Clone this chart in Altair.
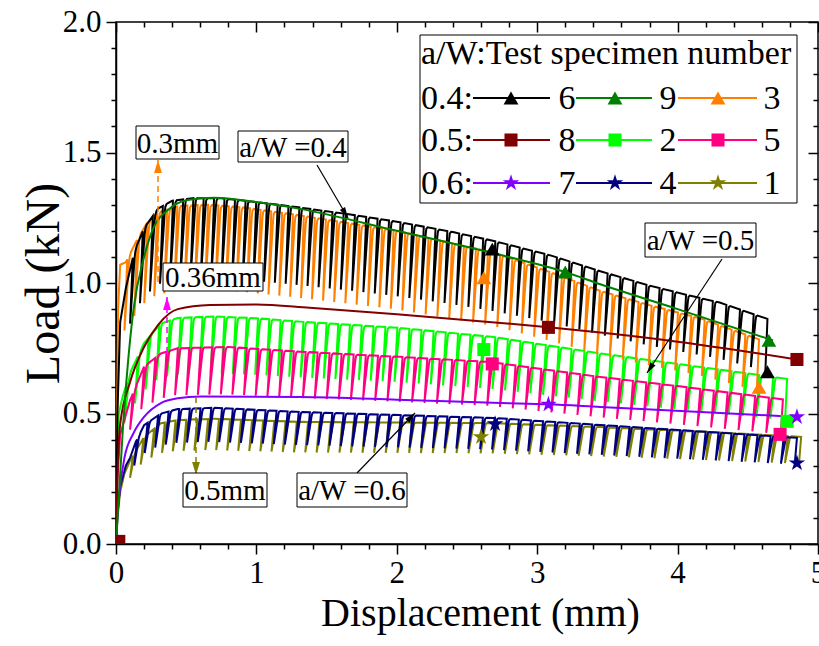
import math
import numpy as np
import pandas as pd
import altair as alt

FONT = "Liberation Serif"
W, H = 702, 522          # plot area in pixels
LEFT, TOP = 116, 22      # plot area offset in the page
XMAX, YMAX = 5.0, 2.0

# ---------------- axis ticks ----------------
X_MAJOR = [0, 1, 2, 3, 4, 5]
X_MINOR = [0.2, 0.4, 0.6, 0.8, 1.2, 1.4, 1.6, 1.8, 2.2, 2.4, 2.6, 2.8,
           3.2, 3.4, 3.6, 3.8, 4.2, 4.4, 4.6, 4.8]
Y_MAJOR = [0.0, 0.5, 1.0, 1.5, 2.0]
Y_MINOR = [0.1, 0.2, 0.3, 0.4, 0.6, 0.7, 0.8, 0.9, 1.1, 1.2, 1.3, 1.4,
           1.6, 1.7, 1.8, 1.9]

# ---------------- specimens ----------------
SPECIMENS = ["1", "2", "3", "4", "5", "6", "7", "8", "9"]          # draw order
COLORS = ["#808000", "#00FF00", "#FF8000", "#000080", "#FF0080",
          "#000000", "#8000FF", "#800000", "#008000"]
STAR = ("M0,-1L0.2245,-0.309L0.9511,-0.309L0.3633,0.118L0.5878,0.809L0,0.382"
        "L-0.5878,0.809L-0.3633,0.118L-0.9511,-0.309L-0.2245,-0.309Z")
SHAPES = [STAR, "square", "triangle-up", STAR, "square", "triangle-up",
          STAR, "square", "triangle-up"]
SIZES = [300, 170, 220, 300, 170, 220, 300, 170, 220]

# ---------------- cyclic (load-unload) specimens: envelope of cycle tops ----------------
ENV6_X = [0, 0.01, 0.03, 0.07, 0.13, 0.2, 0.3, 0.4, 0.55, 0.75, 1.0, 1.3, 1.7, 2.0,
          2.4, 2.7, 3.1, 3.45, 3.8, 4.1, 4.3, 4.68]
ENV6_Y = [0, 0.5, 0.85, 0.98, 1.12, 1.21, 1.285, 1.315, 1.325, 1.325, 1.31, 1.29,
          1.26, 1.235, 1.195, 1.16, 1.105, 1.045, 0.99, 0.95, 0.925, 0.855]
ENV3_X = [0, 0.015, 0.03, 0.07, 0.14, 0.22, 0.3, 0.45, 0.65, 0.9, 1.3, 2.0, 2.7,
          3.1, 3.45, 3.8, 4.16, 4.6]
ENV3_Y = [0, 0.9, 1.07, 1.08, 1.155, 1.23, 1.27, 1.295, 1.3, 1.29, 1.26, 1.2,
          1.115, 1.04, 0.97, 0.915, 0.865, 0.78]
ENV2_X = [0, 0.01, 0.02, 0.045, 0.1, 0.2, 0.32, 0.44, 0.7, 1.0, 1.31, 2.02, 2.69,
          3.45, 4.0, 4.82]
ENV2_Y = [0, 0.3, 0.5, 0.56, 0.655, 0.77, 0.845, 0.866, 0.872, 0.865, 0.852,
          0.828, 0.793, 0.73, 0.69, 0.63]
ENV5_X = [0, 0.01, 0.03, 0.1, 0.2, 0.32, 0.44, 0.8, 1.31, 2.02, 2.67, 3.45, 4.0, 4.78]
ENV5_Y = [0, 0.25, 0.42, 0.55, 0.68, 0.73, 0.75, 0.755, 0.737, 0.717, 0.697,
          0.64, 0.605, 0.552]
ENV4_X = [0, 0.01, 0.03, 0.07, 0.1, 0.14, 0.2, 0.32, 0.44, 0.7, 1.31, 2.02, 2.69,
          3.45, 4.2, 4.87]
ENV4_Y = [0, 0.12, 0.22, 0.3, 0.33, 0.39, 0.455, 0.5, 0.517, 0.522, 0.506, 0.494,
          0.483, 0.456, 0.43, 0.406]
ENV1_X = [0, 0.01, 0.03, 0.06, 0.1, 0.2, 0.32, 0.44, 0.7, 1.31, 2.69, 3.45, 4.2, 4.9]
ENV1_Y = [0, 0.1, 0.2, 0.27, 0.32, 0.41, 0.463, 0.475, 0.48, 0.468, 0.463, 0.448,
          0.43, 0.41]

# cycle layout per cyclic specimen: first / last unloading displacement,
# cycle spacing at start and end, trough/top ratio, final unloaded load
SAW_SPECS = ["6", "3", "2", "5", "4", "1"]
CYC_FIRST = [0.12, 0.08, 0.08, 0.12, 0.15, 0.12]
CYC_LAST = [4.64, 4.58, 4.78, 4.75, 4.85, 4.88]
CYC_STEP0 = [0.07, 0.07, 0.075, 0.08, 0.075, 0.075]
CYC_STEP1 = [0.098, 0.098, 0.10, 0.10, 0.095, 0.095]
CYC_RATIO = [0.77, 0.75, 0.75, 0.76, 0.75, 0.75]
CYC_END_LOW = [0.66, 0.60, 0.47, 0.42, 0.31, 0.31]

# ---------------- monotonic specimens ----------------
S9_X = [0, 0.05, 0.1, 0.125, 0.2, 0.27, 0.37, 0.51, 0.7, 1.0, 1.31, 2.0, 2.74,
        3.2, 3.45, 4.0, 4.68]
S9_Y = [0, 0.45, 0.78, 0.9, 1.1, 1.215, 1.28, 1.318, 1.327, 1.31, 1.284, 1.2,
        1.107, 1.042, 0.995, 0.9, 0.78]
S8_X = [0, 0.01, 0.03, 0.1, 0.2, 0.3, 0.44, 0.67, 1.0, 1.38, 2.0, 2.74, 3.08,
        3.45, 4.0, 4.85]
S8_Y = [0, 0.25, 0.46, 0.62, 0.755, 0.84, 0.9, 0.916, 0.918, 0.905, 0.88, 0.847,
        0.83, 0.81, 0.775, 0.707]
S7_X = [0, 0.01, 0.03, 0.06, 0.125, 0.2, 0.32, 0.44, 0.6, 1.31, 2.0, 2.74, 3.08,
        3.45, 4.2, 4.85]
S7_Y = [0, 0.1, 0.22, 0.33, 0.425, 0.487, 0.54, 0.558, 0.565, 0.563, 0.553, 0.54,
        0.535, 0.525, 0.505, 0.487]

# ---------------- plotted symbols ----------------
MK_SPEC = ["6", "6", "9", "9", "3", "3", "8", "8", "8", "2", "2", "5", "5",
           "7", "7", "7", "4", "4", "1"]
MK_X = [2.68, 4.64, 3.2, 4.65, 2.62, 4.58, 0.02, 3.08, 4.85, 2.62, 4.78, 2.68,
        4.73, 0.005, 3.08, 4.85, 2.7, 4.85, 2.6]
MK_Y = [1.13, 0.66, 1.042, 0.78, 1.02, 0.6, 0.01, 0.83, 0.707, 0.745, 0.47,
        0.69, 0.42, 0.005, 0.535, 0.487, 0.46, 0.31, 0.41]

# ---------------- annotations (page pixels) ----------------
BOX_TEXT = ["0.3mm", "a/W =0.4", "0.36mm", "a/W =0.5", "0.5mm", "a/W =0.6"]
BOX_X0 = [136, 238, 163, 645, 183, 297]
BOX_X1 = [219, 348, 263, 756, 267, 407]
BOX_Y0 = [126, 131, 263, 223, 473, 473]
BOX_Y1 = [159, 162, 291, 257, 507, 507]

ARW_X0 = [317, 722, 357, 158, 167, 196]
ARW_Y0 = [165, 259, 473, 282, 353, 397]
ARW_X1 = [348, 647, 415, 158, 167, 196]
ARW_Y1 = [218, 373, 413, 160, 297, 475]
ARW_COLOR = ["#000000", "#000000", "#000000", "#FF8000", "#FF00FF", "#808000"]
ARW_DASHED = [False, False, False, True, True, True]

# ---------------- legend (page pixels) ----------------
LEG_TITLE = "a/W:Test specimen number"
LEG_ROWS = ["0.4:", "0.5:", "0.6:"]
LEG_ITEMS = [["6", "9", "3"], ["8", "2", "5"], ["7", "4", "1"]]
LEG_ROW_Y = [98, 140, 183]
LEG_LINE_X0 = [473, 576, 678]
LEG_LINE_X1 = [550, 652, 757]
LEG_MARK_X = [511, 615, 718]
LEG_LABEL_X = [567, 668, 772]
LEG_BOX = [420, 35, 797, 203]


def fx(px):
    return (px - LEFT) / W * XMAX


def fy(py):
    return (TOP + H - py) / H * YMAX


XS = alt.Scale(domain=[0, XMAX], nice=False, zero=False)
YS = alt.Scale(domain=[0, YMAX], nice=False, zero=False)


def X(f):
    return alt.X(f, type="quantitative", scale=XS, axis=None)


def Y(f):
    return alt.Y(f, type="quantitative", scale=YS, axis=None)


COLOR_OF = dict(zip(SPECIMENS, COLORS))
SHAPE_OF = dict(zip(SPECIMENS, SHAPES))
SIZE_OF = dict(zip(SPECIMENS, SIZES))

ENV = {"6": (ENV6_X, ENV6_Y), "3": (ENV3_X, ENV3_Y), "2": (ENV2_X, ENV2_Y),
       "5": (ENV5_X, ENV5_Y), "4": (ENV4_X, ENV4_Y), "1": (ENV1_X, ENV1_Y)}
SMOOTH = {"9": (S9_X, S9_Y), "8": (S8_X, S8_Y), "7": (S7_X, S7_Y)}


def cycle_positions(first, last, s0, s1):
    xs = [first]
    while True:
        x = xs[-1]
        step = s0 + (s1 - s0) * (x - first) / (last - first)
        if x + step > last + 0.5 * step:
            break
        xs.append(x + step)
    xs = np.array(xs)
    return first + (xs - first) * (last - first) / (xs[-1] - first)


def sawtooth(ex, ey, xs, ratio, end_low, delta=0.02, gap=0.016):
    env = lambda x: float(np.interp(x, ex, ey))
    pts = [(x, y) for x, y in zip(ex, ey) if x < xs[0] - 0.005]
    n = len(xs)
    for i, xu in enumerate(xs):
        top = env(xu)
        pts.append((xu, top))
        if i == n - 1:
            pts.append((xu - 0.015, end_low))
            break
        pts.append((xu - delta, ratio * top))
        xr = xu + gap
        pts.append((xr - 0.003, env(xr) * 0.975))
        pts.append((xr + 0.002, env(xr) * 0.994))
        pts.append((xr + 0.011, env(xr + 0.011)))
        nxt = xs[i + 1]
        pts += [(x, y) for x, y in zip(ex, ey) if xr + 0.011 < x < nxt - 0.003]
    return pts


curves = {}
for k, spec in enumerate(SAW_SPECS):
    xs = cycle_positions(CYC_FIRST[k], CYC_LAST[k], CYC_STEP0[k], CYC_STEP1[k])
    ex, ey = ENV[spec]
    curves[spec] = sawtooth(ex, ey, xs, CYC_RATIO[k], CYC_END_LOW[k])

layers = []

# ---------------- axes ----------------
ax_df = pd.DataFrame({"x": [0.0, XMAX], "y": [0.0, YMAX]})
common = dict(grid=False, tickColor="black", tickWidth=1.5)


def axis_layer(xaxis, yaxis):
    return alt.Chart(ax_df).mark_point(opacity=0).encode(
        x=alt.X("x:Q", scale=XS, axis=xaxis),
        y=alt.Y("y:Q", scale=YS, axis=yaxis))


layers.append(axis_layer(
    alt.Axis(orient="bottom", values=X_MAJOR, format="d", tickSize=10,
             domain=True, domainColor="black", domainWidth=1.5,
             labelFont=FONT, labelFontSize=31, labelColor="black", labelPadding=4,
             labelFlush=False, labelOverlap=False,
             title="Displacement (mm)", titleFont=FONT, titleFontSize=40,
             titleFontWeight="normal", titleColor="black",
             titleX=364, titleY=81, titleBaseline="alphabetic", titleAlign="center",
             **common),
    alt.Axis(orient="left", values=Y_MAJOR, format=".1f", tickSize=10,
             domain=True, domainColor="black", domainWidth=1.5,
             labelFont=FONT, labelFontSize=31, labelColor="black", labelPadding=5,
             labelFlush=False, labelOverlap=False,
             title="Load (kN)", titleFont=FONT, titleFontSize=48,
             titleFontWeight="normal", titleColor="black",
             titleX=-58, titleY=H / 2, titleBaseline="alphabetic", titleAlign="center",
             titleAngle=270, **common)))
layers.append(axis_layer(
    alt.Axis(orient="bottom", values=X_MINOR, tickSize=5, domain=False,
             labels=False, title=None, **common),
    alt.Axis(orient="left", values=Y_MINOR, tickSize=5, domain=False,
             labels=False, title=None, **common)))
layers.append(axis_layer(
    alt.Axis(orient="top", values=X_MAJOR, tickSize=10, offset=-10, domain=False,
             labels=False, title=None, **common),
    alt.Axis(orient="right", values=Y_MAJOR, tickSize=10, offset=-10, domain=False,
             labels=False, title=None, **common)))
layers.append(axis_layer(
    alt.Axis(orient="top", values=X_MINOR, tickSize=5, offset=-5, domain=False,
             labels=False, title=None, **common),
    alt.Axis(orient="right", values=Y_MINOR, tickSize=5, offset=-5, domain=False,
             labels=False, title=None, **common)))

# ---------------- data curves ----------------
for spec in SPECIMENS:
    if spec in curves:
        pts = curves[spec]
        interp = "linear"
    else:
        sx, sy = SMOOTH[spec]
        pts = list(zip(sx, sy))
        interp = "monotone"
    df = pd.DataFrame({"x": [p[0] for p in pts], "y": [p[1] for p in pts],
                       "i": range(len(pts))})
    layers.append(alt.Chart(df).mark_line(
        color=COLOR_OF[spec], strokeWidth=2, interpolate=interp, clip=True
    ).encode(x=X("x"), y=Y("y"), order=alt.Order("i:Q")))

# ---------------- symbols on curves ----------------
for spec in SPECIMENS:
    idx = [k for k, s in enumerate(MK_SPEC) if s == spec]
    if not idx:
        continue
    df = pd.DataFrame({"x": [MK_X[k] for k in idx], "y": [MK_Y[k] for k in idx]})
    layers.append(alt.Chart(df).mark_point(
        shape=SHAPE_OF[spec], filled=True, opacity=1, size=SIZE_OF[spec],
        color=COLOR_OF[spec], clip=True
    ).encode(x=X("x"), y=Y("y")))

# ---------------- annotation arrows ----------------
for k in range(len(ARW_X0)):
    x0, y0, x1, y1 = ARW_X0[k], ARW_Y0[k], ARW_X1[k], ARW_Y1[k]
    df = pd.DataFrame({"x": [fx(x0)], "y": [fy(y0)], "x2": [fx(x1)], "y2": [fy(y1)]})
    kw = dict(color=ARW_COLOR[k], strokeWidth=1.5 if ARW_DASHED[k] else 1.2)
    if ARW_DASHED[k]:
        kw["strokeDash"] = [6, 4]
    layers.append(alt.Chart(df).mark_rule(**kw).encode(
        x=X("x"), y=Y("y"), x2="x2", y2="y2"))
    dx, dy = x1 - x0, y1 - y0
    L = math.hypot(dx, dy)
    r = 6.5 if ARW_DASHED[k] else 5.5
    cx, cy = x1 - r * dx / L, y1 - r * dy / L
    ang = math.degrees(math.atan2(dx, -dy)) % 360
    head = "M0,-1L0.6,1L-0.6,1Z" if ARW_DASHED[k] else "M0,-1L0.55,1L-0.55,1Z"
    hdf = pd.DataFrame({"x": [fx(cx)], "y": [fy(cy)]})
    layers.append(alt.Chart(hdf).mark_point(
        shape=head, filled=True, opacity=1, size=(2 * r) ** 2, angle=ang,
        color=ARW_COLOR[k], strokeWidth=0
    ).encode(x=X("x"), y=Y("y")))

# ---------------- annotation boxes ----------------
box_df = pd.DataFrame({
    "x0": [fx(v) for v in BOX_X0], "x1": [fx(v) for v in BOX_X1],
    "y0": [fy(v) for v in BOX_Y1], "y1": [fy(v) for v in BOX_Y0],
    "tx": [fx((a + b) / 2) for a, b in zip(BOX_X0, BOX_X1)],
    "ty": [fy((a + b) / 2) for a, b in zip(BOX_Y0, BOX_Y1)],
    "text": BOX_TEXT})
layers.append(alt.Chart(box_df).mark_rect(
    fill="white", stroke="black", strokeWidth=1).encode(
    x=X("x0"), x2="x1", y=Y("y0"), y2="y1"))
layers.append(alt.Chart(box_df).mark_text(
    font=FONT, fontSize=29, color="black", align="center", baseline="middle", dy=1
).encode(x=X("tx"), y=Y("ty"), text="text:N"))

# ---------------- legend ----------------
lb = pd.DataFrame({"x0": [fx(LEG_BOX[0])], "x1": [fx(LEG_BOX[2])],
                   "y0": [fy(LEG_BOX[3])], "y1": [fy(LEG_BOX[1])]})
layers.append(alt.Chart(lb).mark_rect(
    fill="white", stroke="black", strokeWidth=1).encode(
    x=X("x0"), x2="x1", y=Y("y0"), y2="y1"))

ltxt_x, ltxt_y, ltxt_t, ltxt_a = [fx(421)], [fy(53)], [LEG_TITLE], ["left"]
for r, lab in enumerate(LEG_ROWS):
    ltxt_x.append(fx(421)); ltxt_y.append(fy(LEG_ROW_Y[r])); ltxt_t.append(lab); ltxt_a.append("left")
    for c, spec in enumerate(LEG_ITEMS[r]):
        ltxt_x.append(fx(LEG_LABEL_X[c])); ltxt_y.append(fy(LEG_ROW_Y[r]))
        ltxt_t.append(spec); ltxt_a.append("center")
        ldf = pd.DataFrame({"x": [fx(LEG_LINE_X0[c])], "x2": [fx(LEG_LINE_X1[c])],
                            "y": [fy(LEG_ROW_Y[r])], "mx": [fx(LEG_MARK_X[c])]})
        layers.append(alt.Chart(ldf).mark_rule(
            color=COLOR_OF[spec], strokeWidth=2).encode(x=X("x"), x2="x2", y=Y("y")))
        layers.append(alt.Chart(ldf).mark_point(
            shape=SHAPE_OF[spec], filled=True, opacity=1, size=SIZE_OF[spec],
            color=COLOR_OF[spec]).encode(x=X("mx"), y=Y("y")))
for align in ["left", "center"]:
    idx = [k for k, a in enumerate(ltxt_a) if a == align]
    tdf = pd.DataFrame({"x": [ltxt_x[k] for k in idx], "y": [ltxt_y[k] for k in idx],
                        "t": [ltxt_t[k] for k in idx]})
    layers.append(alt.Chart(tdf).mark_text(
        font=FONT, fontSize=34, color="black", align=align, baseline="middle", dy=1
    ).encode(x=X("x"), y=Y("y"), text="t:N"))

chart = alt.layer(*layers).resolve_axis(x="independent", y="independent").properties(
    width=W, height=H,
    autosize=alt.AutoSizeParams(type="none"),
    padding={"left": LEFT, "top": TOP, "right": 819 - LEFT - W, "bottom": 646 - TOP - H},
    background="white",
).configure_view(stroke="black", strokeWidth=1.5)

chart.save("out.html", embed_options={"renderer": "svg", "actions": False})
